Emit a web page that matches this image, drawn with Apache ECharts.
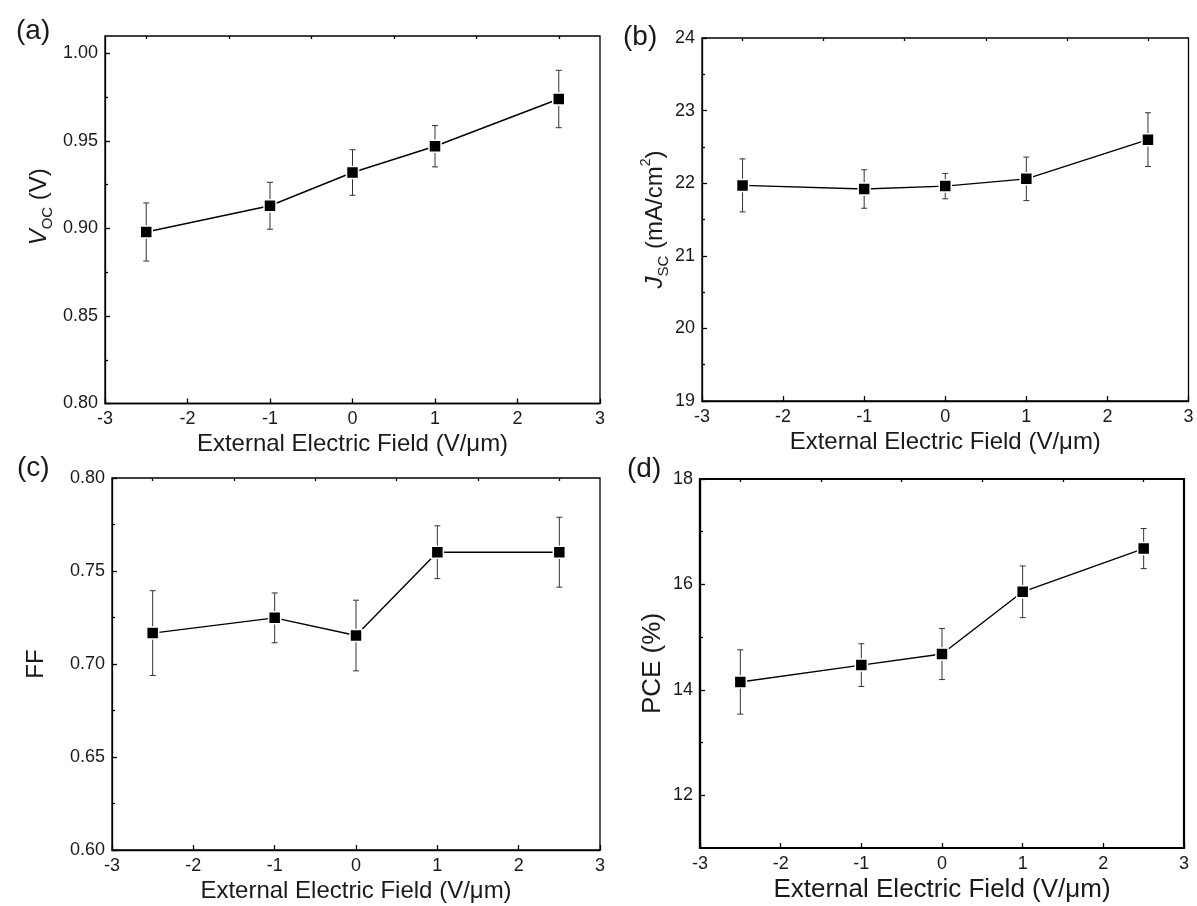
<!DOCTYPE html>
<html>
<head>
<meta charset="utf-8">
<script src="https://cdn.jsdelivr.net/npm/echarts@6/dist/echarts.min.js"></script>
<style>
html, body { margin: 0; padding: 0; background: #fff; }
#main { width: 1197px; height: 906px; }
</style>
</head>
<body>
<div id="main"></div>
<script>
// electric field (V/um) for every panel
var fieldValues = [-2.5, -1, 0, 1, 2.5];
var xTicks = [-3, -2, -1, 0, 1, 2, 3];

// (a) Voc
var vocValues = [0.898, 0.913, 0.932, 0.947, 0.974];
var vocErrors = [0.0166, 0.0134, 0.013, 0.0118, 0.0164];
var vocTicks = [0.80, 0.85, 0.90, 0.95, 1.00];

// (b) Jsc
var jscValues = [21.97, 21.92, 21.96, 22.06, 22.60];
var jscErrors = [0.365, 0.265, 0.175, 0.30, 0.37];
var jscTicks = [19, 20, 21, 22, 23, 24];

// (c) FF
var ffValues = [0.7166, 0.7248, 0.7153, 0.7601, 0.7601];
var ffErrors = [0.0228, 0.0134, 0.019, 0.0142, 0.0188];
var ffTicks = [0.60, 0.65, 0.70, 0.75, 0.80];

// (d) PCE
var pceValues = [14.15, 14.47, 14.68, 15.86, 16.68];
var pceErrors = [0.61, 0.405, 0.485, 0.49, 0.38];
var pceTicks = [12, 14, 16, 18];

var font = 'Liberation Sans, Arial, sans-serif';
var ink = '#1a1a1a';

function mids(arr) {
    var out = [];
    for (var i = 0; i < arr.length - 1; i++) out.push((arr[i] + arr[i + 1]) / 2);
    return out;
}

var panels = [
    { tag: '(a)', tagPos: [11, 12], grid: { left: 105, top: 36, width: 495, height: 367.5 },
      ymin: 0.80, ymax: 1.01, ticks: vocTicks, digits: 2, values: vocValues, errors: vocErrors,
      name: '{i|V}{s|OC} (V)', nameGap: 50, namePad: [0, 0, 0, 26], border: 1.3, size: 24 },
    { tag: '(b)', tagPos: [618, 18], grid: { left: 702, top: 38, width: 486.5, height: 363 },
      ymin: 19, ymax: 24, ticks: jscTicks, digits: 0, values: jscValues, errors: jscErrors,
      name: '{i|J}{s|SC} (mA/cm{p|2})', nameGap: 30, namePad: [0, 0, 0, 0], border: 1.3, size: 24 },
    { tag: '(c)', tagPos: [12, 449], grid: { left: 112, top: 478, width: 488, height: 372 },
      ymin: 0.60, ymax: 0.80, ticks: ffTicks, digits: 2, values: ffValues, errors: ffErrors,
      name: 'FF', nameGap: 60, namePad: [0, 0, 0, 0], border: 1.3, size: 24 },
    { tag: '(d)', tagPos: [622, 450], grid: { left: 700, top: 479, width: 484, height: 369 },
      ymin: 11, ymax: 18, ticks: pceTicks, digits: 0, values: pceValues, errors: pceErrors,
      name: 'PCE (%)', nameGap: 30, namePad: [0, 0, 0, 0], border: 2.2, size: 26 }
];

var option = {
    backgroundColor: '#fff',
    animation: false,
    textStyle: { fontFamily: font, color: ink },
    title: [], grid: [], xAxis: [], yAxis: [], series: []
};

panels.forEach(function (p, k) {
    option.title.push({
        text: p.tag, left: p.tagPos[0], top: p.tagPos[1],
        textStyle: { fontSize: 28, fontWeight: 'normal', color: ink, fontFamily: font }
    });
    option.grid.push(Object.assign({ show: true, borderColor: '#000', borderWidth: p.border }, p.grid));

    var axisLine = { show: true, onZero: false, lineStyle: { color: '#000', width: p.border } };
    var labelStyle = { color: ink, fontSize: 18, fontFamily: font };

    // major x axis
    option.xAxis.push({
        type: 'value', gridIndex: k, min: -3, max: 3, interval: 1,
        axisLine: axisLine,
        axisTick: { show: true, inside: true, length: 5, customValues: xTicks, lineStyle: { color: '#000', width: 1.3 } },
        axisLabel: Object.assign({ margin: 7, customValues: xTicks }, labelStyle),
        splitLine: { show: false },
        name: 'External Electric Field (V/\u03bcm)', nameLocation: 'middle', nameGap: 29,
        nameTextStyle: { fontSize: p.size, color: ink, fontFamily: font }
    });
    // minor x ticks
    option.xAxis.push({
        type: 'value', gridIndex: k, min: -3, max: 3,
        axisLine: { show: false, onZero: false },
        axisTick: { show: true, inside: true, length: 3, customValues: mids(xTicks), lineStyle: { color: '#000', width: 1.3 } },
        axisLabel: { show: false }, splitLine: { show: false }
    });

    // major y axis
    option.yAxis.push({
        type: 'value', gridIndex: k, min: p.ymin, max: p.ymax, position: 'left',
        axisLine: axisLine,
        axisTick: { show: true, inside: true, length: 5, customValues: p.ticks, lineStyle: { color: '#000', width: 1.3 } },
        axisLabel: Object.assign({
            margin: 7, customValues: p.ticks,
            formatter: (function (d) { return function (v) { return v.toFixed(d); }; })(p.digits)
        }, labelStyle),
        splitLine: { show: false },
        name: p.name, nameLocation: 'middle', nameGap: p.nameGap,
        nameTextStyle: {
            fontSize: p.size, color: ink, fontFamily: font, lineHeight: 32, padding: p.namePad,
            rich: {
                i: { fontStyle: 'italic', fontSize: p.size, lineHeight: 32, color: ink, fontFamily: font },
                s: { fontSize: 15, lineHeight: 18, verticalAlign: 'bottom', color: ink, fontFamily: font },
                p: { fontSize: 14, lineHeight: 18, verticalAlign: 'top', color: ink, fontFamily: font }
            }
        }
    });
    // minor y ticks
    option.yAxis.push({
        type: 'value', gridIndex: k, min: p.ymin, max: p.ymax, position: 'left',
        axisLine: { show: false, onZero: false },
        axisTick: { show: true, inside: true, length: 3, customValues: mids(p.ticks), lineStyle: { color: '#000', width: 1.3 } },
        axisLabel: { show: false }, splitLine: { show: false }
    });

    var xi = 2 * k, yi = 2 * k;

    option.series.push({
        type: 'custom', xAxisIndex: xi, yAxisIndex: yi, silent: true, z: 1,
        encode: { x: 0, y: [1, 2] },
        data: fieldValues.map(function (x, i) {
            return [x, p.values[i] - p.errors[i], p.values[i] + p.errors[i]];
        }),
        renderItem: function (params, api) {
            var lo = api.coord([api.value(0), api.value(1)]);
            var hi = api.coord([api.value(0), api.value(2)]);
            var cap = 3;
            var style = { stroke: '#333', lineWidth: 1 };
            return {
                type: 'group',
                children: [
                    { type: 'line', shape: { x1: hi[0], y1: hi[1], x2: lo[0], y2: lo[1] }, style: style },
                    { type: 'line', shape: { x1: hi[0] - cap, y1: hi[1], x2: hi[0] + cap, y2: hi[1] }, style: style },
                    { type: 'line', shape: { x1: lo[0] - cap, y1: lo[1], x2: lo[0] + cap, y2: lo[1] }, style: style }
                ]
            };
        }
    });

    option.series.push({
        type: 'line', xAxisIndex: xi, yAxisIndex: yi, z: 2,
        data: fieldValues.map(function (x, i) { return [x, p.values[i]]; }),
        symbol: 'rect', symbolSize: 12,
        lineStyle: { color: '#000', width: 1.4 },
        itemStyle: { color: '#000', borderColor: '#fff', borderWidth: 1.5 }
    });
});

var myChart = echarts.init(document.getElementById('main'));
myChart.setOption(option);
window.addEventListener('resize', function () {
    myChart.resize();
});
</script>
</body>
</html>
